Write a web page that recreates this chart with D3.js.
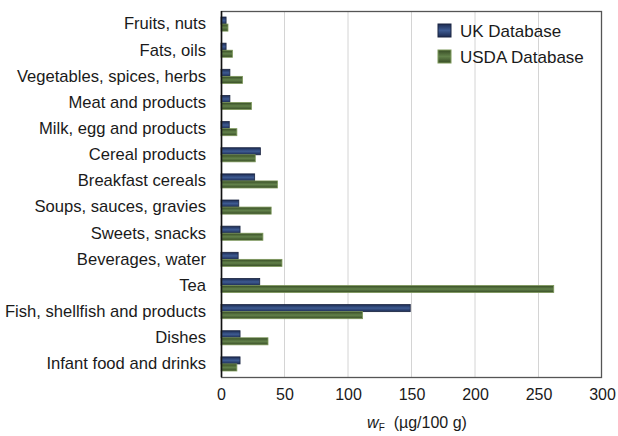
<!DOCTYPE html>
<html>
<head>
<meta charset="utf-8">
<script src="https://cdn.jsdelivr.net/npm/d3@7"></script>
<style>
  body { margin: 0; background: #fff; }
  text { font-family: "Liberation Sans", Arial, sans-serif; fill: #1a1a1a; }
</style>
</head>
<body>
<svg></svg>
<script>
const categories = [
  'Fruits, nuts', 'Fats, oils', 'Vegetables, spices, herbs', 'Meat and products',
  'Milk, egg and products', 'Cereal products', 'Breakfast cereals',
  'Soups, sauces, gravies', 'Sweets, snacks', 'Beverages, water', 'Tea',
  'Fish, shellfish and products', 'Dishes', 'Infant food and drinks'
];
const seriesNames = ['UK Database', 'USDA Database'];
const ukValues   = [4, 4, 7, 7, 6.5, 31, 26.5, 14, 15, 13.5, 30.5, 149, 15, 15];
const usdaValues = [5.5, 9, 17, 24, 12.5, 27, 44.5, 39.5, 33, 48, 262, 111.5, 37, 12.5];
const xTicks = [0, 50, 100, 150, 200, 250, 300];

const width = 618,
      height = 436,
      margin = {top: 11, right: 16, bottom: 59, left: 221};

const svg = d3.select('svg')
  .attr('width', width)
  .attr('height', height);

// bar gradients, dark edges with a lighter middle
const defs = svg.append('defs');
const grads = [
  {id: 'gUK', edge: '#1c2b52', mid: '#3e5b92'},
  {id: 'gUS', edge: '#364b24', mid: '#62814a'}
];
grads.forEach(g => {
  const lg = defs.append('linearGradient').attr('id', g.id)
    .attr('x1', 0).attr('y1', 0).attr('x2', 0).attr('y2', 1);
  lg.append('stop').attr('offset', '0%').attr('stop-color', g.edge);
  lg.append('stop').attr('offset', '50%').attr('stop-color', g.mid);
  lg.append('stop').attr('offset', '100%').attr('stop-color', g.edge);
});
const fills = ['url(#gUK)', 'url(#gUS)'];
const strokes = ['#1a2440', '#7f9a5c'];

const x = d3.scaleLinear()
  .domain([0, 300])
  .range([margin.left, width - margin.right]);

const y = d3.scaleBand()
  .domain(categories)
  .range([margin.top, height - margin.bottom])
  .paddingInner(0.46)
  .paddingOuter(0.23);

const ySub = d3.scaleBand()
  .domain(seriesNames)
  .range([0, y.bandwidth()]);

// grid
svg.append('g')
  .selectAll('line')
  .data(xTicks.slice(1, -1))
  .enter().append('line')
  .attr('x1', d => x(d)).attr('x2', d => x(d))
  .attr('y1', margin.top).attr('y2', height - margin.bottom)
  .attr('stroke', '#d4d4d4')
  .attr('stroke-width', 1);

// bars
const rows = categories.map((c, i) => ({c: c, v: [ukValues[i], usdaValues[i]]}));

const groups = svg.append('g')
  .selectAll('g')
  .data(rows)
  .enter().append('g')
  .attr('transform', d => 'translate(0,' + y(d.c) + ')');

groups.selectAll('rect')
  .data(d => d.v.map((v, k) => ({v: v, k: k})))
  .enter().append('rect')
  .attr('x', x(0))
  .attr('y', d => ySub(seriesNames[d.k]))
  .attr('width', d => x(d.v) - x(0))
  .attr('height', ySub.bandwidth())
  .attr('fill', d => fills[d.k])
  .attr('stroke', d => strokes[d.k])
  .attr('stroke-width', 0.8);

// plot frame
svg.append('rect')
  .attr('x', margin.left + 0.5)
  .attr('y', margin.top + 0.5)
  .attr('width', width - margin.left - margin.right - 1)
  .attr('height', height - margin.top - margin.bottom)
  .attr('fill', 'none')
  .attr('stroke', '#555')
  .attr('stroke-width', 1.3);

svg.append('line')
  .attr('x1', x(0) + 0.5).attr('x2', x(0) + 0.5)
  .attr('y1', margin.top).attr('y2', height - margin.bottom)
  .attr('stroke', '#111')
  .attr('stroke-width', 1.5);

// x axis
const xAxis = svg.append('g')
  .attr('transform', 'translate(0,' + (height - margin.bottom) + ')')
  .call(d3.axisBottom(x).tickValues(xTicks).tickSize(0).tickPadding(12));
xAxis.select('.domain').remove();
xAxis.selectAll('text')
  .style('font-size', '16px')
  .style('font-family', '"Liberation Sans", Arial, sans-serif')
  .attr('fill', '#1a1a1a');

// y axis labels
const yAxis = svg.append('g')
  .attr('transform', 'translate(' + margin.left + ',0)')
  .call(d3.axisLeft(y).tickSize(0).tickPadding(15));
yAxis.select('.domain').remove();
yAxis.selectAll('text')
  .style('font-size', '16.6px')
  .style('font-family', '"Liberation Sans", Arial, sans-serif')
  .attr('fill', '#1a1a1a');

// axis title
const title = svg.append('text')
  .attr('x', 417)
  .attr('y', 428)
  .attr('text-anchor', 'middle')
  .style('font-size', '16px');
title.append('tspan').style('font-style', 'italic').text('w');
title.append('tspan').attr('dy', 3).style('font-size', '10px').text('F');
title.append('tspan').attr('dy', -3).text('\u00a0 (µg/100 g)');

// legend
const legend = svg.append('g')
  .attr('transform', 'translate(438,24)');
const items = legend.selectAll('g')
  .data(seriesNames)
  .enter().append('g')
  .attr('transform', (d, i) => 'translate(0,' + i * 26 + ')');
items.append('rect')
  .attr('width', 13).attr('height', 13)
  .attr('fill', (d, i) => fills[i])
  .attr('stroke', (d, i) => strokes[i]);
items.append('text')
  .attr('x', 22).attr('y', 7)
  .attr('dy', '0.35em')
  .style('font-size', '17px')
  .text(d => d);
</script>
</body>
</html>
